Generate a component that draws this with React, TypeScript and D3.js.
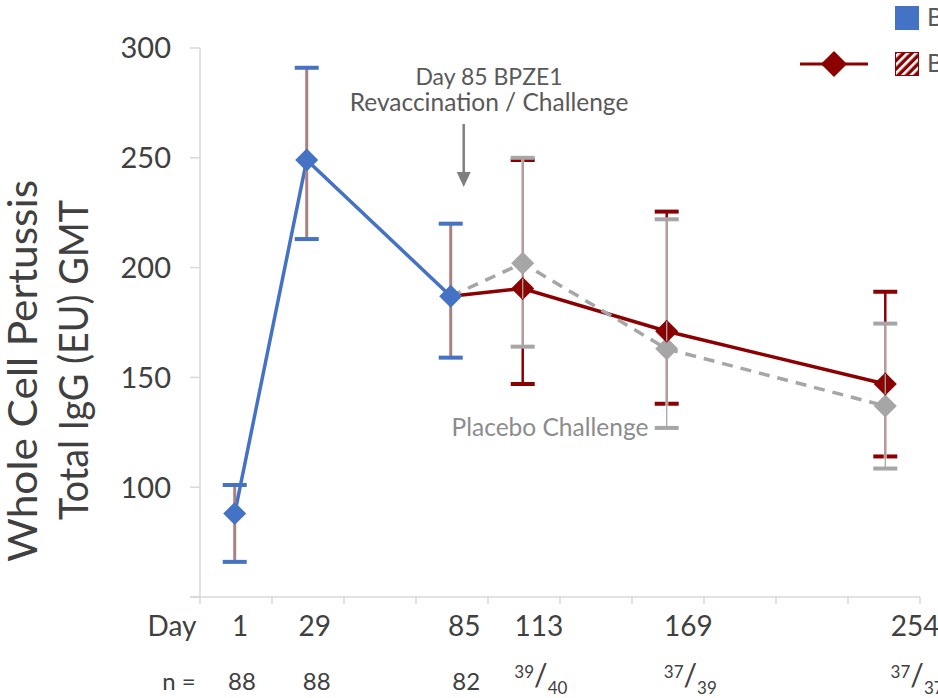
import React from 'react'
import * as d3 from 'd3'

// values (GMT, EU)
const primaryDays = [1, 29, 85]
const primaryGMT = [88, 249, 187]
const primaryLo = [66, 213, 159]
const primaryHi = [101, 291, 220]

const followDays = [85, 113, 169, 254]
const revacGMT = [187, 190.5, 171, 147]
const revacLo = [null, 147, 138, 114]
const revacHi = [null, 249, 225.5, 189]
const placeboGMT = [187, 202, 163, 137]
const placeboLo = [null, 164, 127, 108.5]
const placeboHi = [null, 250, 222, 174.5]

const dayLabels = ['1', '29', '85', '113', '169', '254']
const labelDays = [1, 29, 85, 113, 169, 254]
const nLabels: (string | [string, string])[] = ['88', '88', '82', ['39', '40'], ['37', '39'], ['37', '37']]
const yTicks = [100, 150, 200, 250, 300]

const BLUE = '#4472c4'
const RED = '#8b0000'
const GREY = '#a6a6a6'
const TEXT = '#404040'
const FONT = 'Lato, "Open Sans", sans-serif'

const W = 938
const H = 698

export default function App() {
  const x = d3.scaleLinear().domain([-12.5, 267.5]).range([200, 920])
  const y = d3.scaleLinear().domain([50, 300]).range([597, 48])
  // the day / n labels in the original sit a little to the right of the points
  const lx = d3.scaleLinear().domain(x.domain()).range([200 * 1.03, 920 * 1.036])

  const xTicks = d3.range(-12.5, 268, 28)
  const gridTicks = d3.range(50, 301, 50)

  const line = d3.line<[number, number]>().x(d => x(d[0])).y(d => y(d[1]))
  const diamond = d3.symbol(d3.symbolSquare, 265)()

  const primary = primaryDays.map((d, i) => [d, primaryGMT[i]] as [number, number])
  const revac = followDays.map((d, i) => [d, revacGMT[i]] as [number, number])
  const placebo = followDays.map((d, i) => [d, placeboGMT[i]] as [number, number])

  const cap = (cx: number, v: number, color: string, key: string) => (
    <line key={key} x1={x(cx) - 12} x2={x(cx) + 12} y1={y(v)} y2={y(v)} stroke={color} strokeWidth={4} />
  )

  return (
    <svg width={W} height={H} style={{ position: 'absolute', left: 0, top: 0, background: '#fff' }} fontFamily={FONT}>
      <defs>
        <pattern id="hatch" width="6" height="6" patternUnits="userSpaceOnUse" patternTransform="rotate(45)">
          <rect width="6" height="6" fill={RED} />
          <rect width="2.6" height="6" fill="#fff" />
        </pattern>
      </defs>

      {/* axes */}
      <line x1={200} x2={200} y1={y(300)} y2={y(50)} stroke="#d9d9d9" strokeWidth={1.5} />
      {gridTicks.map(t => (
        <line key={'yt' + t} x1={190} x2={200} y1={y(t)} y2={y(t)} stroke="#d9d9d9" strokeWidth={1.5} />
      ))}
      <line x1={190} x2={x(267.5)} y1={y(50)} y2={y(50)} stroke="#d9d9d9" strokeWidth={1.5} />
      {xTicks.map(t => (
        <line key={'xt' + t} x1={x(t)} x2={x(t)} y1={y(50)} y2={y(50) + 7} stroke="#d9d9d9" strokeWidth={1.5} />
      ))}
      {yTicks.map(t => (
        <text key={'yl' + t} x={171} y={y(t)} dy="0.36em" textAnchor="end" fontSize={29} fill={TEXT}>{t}</text>
      ))}

      {/* y title */}
      <text transform="translate(37,371) rotate(-90)" textAnchor="middle" fontSize={40} fill={TEXT}
        textLength={382} lengthAdjust="spacingAndGlyphs">Whole Cell Pertussis</text>
      <text transform="translate(88,360) rotate(-90)" textAnchor="middle" fontSize={40} fill={TEXT}
        textLength={320} lengthAdjust="spacingAndGlyphs">Total IgG (EU) GMT</text>

      {/* x labels */}
      <text x={172} y={636} textAnchor="middle" fontSize={28} fill={TEXT}>Day</text>
      {dayLabels.map((t, i) => (
        <text key={'dl' + t} x={lx(labelDays[i]) - 2} y={636} textAnchor="middle" fontSize={28} fill={TEXT}>{t}</text>
      ))}
      <text x={179} y={690} textAnchor="middle" fontSize={24} fill={TEXT}>n =</text>
      {nLabels.map((t, i) =>
        typeof t === 'string' ? (
          <text key={'nl' + i} x={lx(labelDays[i])} y={690} textAnchor="middle" fontSize={24} fill={TEXT}>{t}</text>
        ) : (
          <text key={'nl' + i} x={lx(labelDays[i])} y={690} textAnchor="middle" fill={TEXT}>
            <tspan fontSize={17} dy={-12}>{t[0]}</tspan>
            <tspan fontSize={30} dy={8}>/</tspan>
            <tspan fontSize={17} dy={8}>{t[1]}</tspan>
          </text>
        )
      )}

      {/* annotations */}
      <text x={489} y={85} textAnchor="middle" fontSize={23} fill="#595959">Day 85 BPZE1</text>
      <text x={489} y={111} textAnchor="middle" fontSize={24.5} fill="#595959">Revaccination / Challenge</text>
      <line x1={x(85) + 13} x2={x(85) + 13} y1={124} y2={174} stroke="#7f7f7f" strokeWidth={2.5} />
      <path d={`M${x(85) + 6},172 L${x(85) + 20},172 L${x(85) + 13},187 Z`} fill="#7f7f7f" />
      <text x={550} y={436} textAnchor="middle" fontSize={24.5} fill="#8c8c8c">Placebo Challenge</text>

      {/* lines */}
      <path d={line(primary) || ''} fill="none" stroke={BLUE} strokeWidth={3.5} />
      <path d={line(revac) || ''} fill="none" stroke={RED} strokeWidth={3.5} />
      <path d={line(placebo) || ''} fill="none" stroke={GREY} strokeWidth={3.5} strokeDasharray="11 8" />

      {/* error bars: primary */}
      {primaryDays.map((d, i) => (
        <g key={'pe' + d}>
          <line x1={x(d)} x2={x(d)} y1={y(primaryLo[i])} y2={y(primaryHi[i])} stroke="#b57c7c" strokeWidth={3} />
          <line x1={x(d)} x2={x(d)} y1={y(primaryLo[i])} y2={y(primaryHi[i])} stroke="#9a8a8a" strokeWidth={1} />
          {cap(d, primaryLo[i], BLUE, 'a')}
          {cap(d, primaryHi[i], BLUE, 'b')}
        </g>
      ))}

      {/* error bars: revaccination */}
      {followDays.map((d, i) => revacLo[i] == null ? null : (
        <g key={'re' + d}>
          <line x1={x(d)} x2={x(d)} y1={y(revacLo[i] as number)} y2={y(revacHi[i] as number)} stroke={RED} strokeWidth={2.5} />
          {cap(d, revacLo[i] as number, RED, 'a')}
          {cap(d, revacHi[i] as number, RED, 'b')}
        </g>
      ))}

      {/* markers: primary */}
      {primary.map(p => (
        <path key={'pm' + p[0]} d={diamond || ''} transform={`translate(${x(p[0])},${y(p[1])}) rotate(45)`} fill={BLUE} />
      ))}

      {/* error bars: placebo */}
      {followDays.map((d, i) => placeboLo[i] == null ? null : (
        <g key={'ge' + d}>
          <line x1={x(d)} x2={x(d)} y1={y(placeboLo[i] as number)} y2={y(placeboHi[i] as number)} stroke="#fff" strokeOpacity={0.55} strokeWidth={3.5} />
          <line x1={x(d)} x2={x(d)} y1={y(placeboLo[i] as number)} y2={y(placeboHi[i] as number)} stroke={GREY} strokeWidth={1.3} />
          {cap(d, placeboLo[i] as number, GREY, 'a')}
          {cap(d, placeboHi[i] as number, GREY, 'b')}
        </g>
      ))}
      {placebo.slice(1).map(p => (
        <path key={'gm' + p[0]} d={diamond || ''} transform={`translate(${x(p[0])},${y(p[1])}) rotate(45)`} fill={GREY} />
      ))}
      {revac.slice(1).map(p => (
        <path key={'rm' + p[0]} d={diamond || ''} transform={`translate(${x(p[0])},${y(p[1])}) rotate(45)`} fill={RED} />
      ))}
      {/* placebo whisker shows through the red markers in the original */}
      {followDays.map((d, i) => placeboLo[i] == null ? null : (
        <line key={'go' + d} x1={x(d)} x2={x(d)} y1={y(revacGMT[i]) - 10} y2={y(revacGMT[i]) + 10} stroke={GREY} strokeWidth={1.3} />
      ))}

      {/* legend (cut off at the right edge) */}
      <rect x={895} y={6} width={24} height={24} fill={BLUE} />
      <text x={927} y={26} fontSize={25} fill="#595959">BPZE1</text>
      <line x1={800} x2={868} y1={64} y2={64} stroke={RED} strokeWidth={3} />
      <path d={d3.symbol(d3.symbolSquare, 340)() || ''} transform="translate(834,64) rotate(45)" fill={RED} />
      <rect x={895.5} y={52.5} width={23} height={23} fill="url(#hatch)" stroke={RED} strokeWidth={1} />
      <text x={927} y={72} fontSize={25} fill="#595959">BPZE1</text>
    </svg>
  )
}
